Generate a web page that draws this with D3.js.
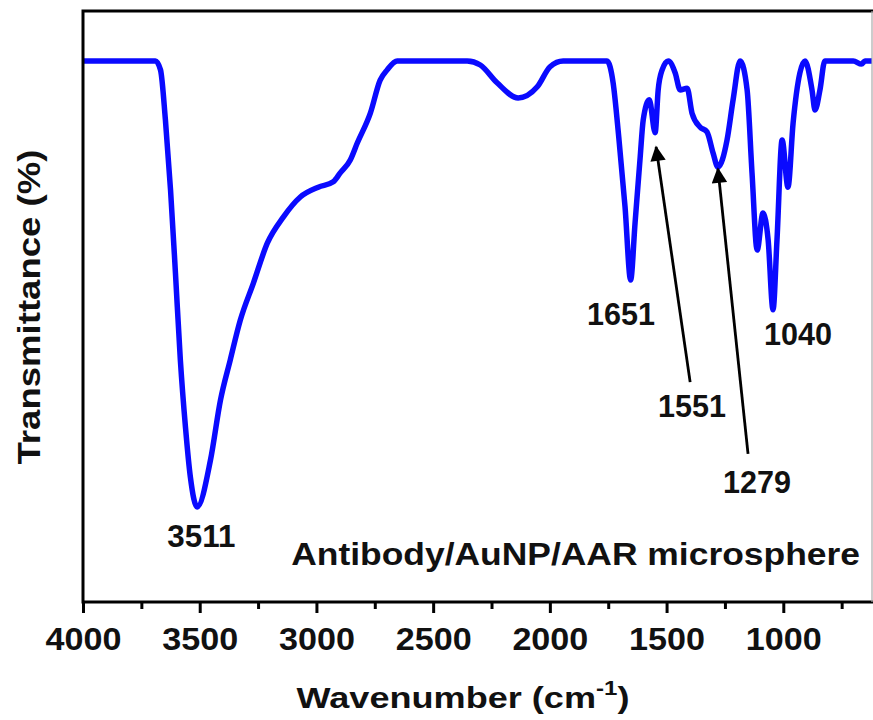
<!DOCTYPE html>
<html>
<head>
<meta charset="utf-8">
<script src="https://cdn.jsdelivr.net/npm/d3@7"></script>
<style>
  html, body { margin: 0; padding: 0; background: #fff; }
  svg { display: block; }
  text { font-family: "Liberation Sans", Arial, sans-serif; font-weight: bold; fill: #111; }
</style>
</head>
<body>
<svg id="chart" width="873" height="720"></svg>
<script>
// ---- data ----
const wavenumber = [4000, 3690, 3668, 3647, 3625, 3604, 3583, 3561, 3540, 3511, 3454, 3411, 3369, 3326, 3270, 3210, 3142, 3069, 2992, 2928, 2898, 2855, 2825, 2769, 2727, 2697, 2654, 2354, 2298, 2226, 2136, 2054, 1999, 1943, 1755, 1729, 1705, 1678, 1654, 1635, 1613, 1600, 1574, 1549, 1536, 1519, 1493, 1463, 1442, 1412, 1391, 1357, 1327, 1301, 1280, 1241, 1215, 1185, 1155, 1134, 1112, 1087, 1065, 1044, 1027, 1005, 980, 958, 929, 907, 877, 864, 843, 822, 700, 665, 650, 620];
const transmittance = [100, 100, 98.0, 86.8, 71.1, 52.5, 33.0, 17.9, 6.7, 0, 10.5, 24.0, 33.0, 41.9, 50.2, 59.2, 65.0, 69.5, 71.7, 72.9, 74.9, 77.8, 81.6, 88.3, 95.7, 98.0, 100, 100, 99.1, 95.1, 91.7, 94.2, 98.7, 100, 100, 95.1, 83.0, 67.3, 50.9, 63.7, 78.5, 86.8, 91.3, 83.9, 93.5, 98.0, 100, 97.3, 93.5, 93.9, 88.3, 85.2, 84.1, 79.4, 76.2, 82.3, 91.3, 100, 93.5, 74.9, 57.6, 65.9, 59.9, 44.2, 59.9, 82.3, 71.7, 86.1, 97.3, 100, 93.5, 89.0, 93.5, 100, 100, 99.3, 100, 100];

const majorTicks = [4000, 3500, 3000, 2500, 2000, 1500, 1000];
const minorTicks = [3750, 3250, 2750, 2250, 1750, 1250, 750];

const peakLabels = ["3511", "1651", "1040", "1551", "1279"];
const peakLabelX = [3493, 1695, 937, 1391, 1113];
const peakLabelY = [-9.0, 40.8, 36.3, 20.2, 3.1];

const arrowFromX = [1399, 1151];
const arrowFromY = [28.0, 11.9];
const arrowToX = [1545, 1280];
const arrowToY = [80.7, 75.8];

const sampleLabel = "Antibody/AuNP/AAR microsphere";
const xTitle = "Wavenumber (cm";
const xTitleSup = "-1";
const yTitle = "Transmittance (%)";

// ---- layout ----
const svg = d3.select("#chart");
const plotLeft = 83, plotRight = 872, plotTop = 11, plotBottom = 602;

const x = d3.scaleLinear().domain([4000, 620]).range([plotLeft, plotRight]);
const y = d3.scaleLinear().domain([-21.3, 111.2]).range([plotBottom, plotTop]);

// place a text at (px,py) and stretch it horizontally to a target width
function stretchedText(parent, px, py, anchor, size, targetWidth, rotate) {
  const g = parent.append("g");
  const t = g.append("text").attr("text-anchor", anchor).style("font-size", size + "px");
  return {
    t,
    fit() {
      const w = t.node().getBBox().width;
      const s = w > 0 ? targetWidth / w : 1;
      g.attr("transform", `translate(${px},${py})` + (rotate ? ` rotate(${rotate})` : "") + ` scale(${s},1)`);
    }
  };
}

const defs = svg.append("defs");
defs.append("clipPath").attr("id", "clip")
  .append("rect").attr("x", plotLeft).attr("y", plotTop)
  .attr("width", plotRight - plotLeft).attr("height", plotBottom - plotTop);

defs.append("marker")
  .attr("id", "arrowhead").attr("viewBox", "0 0 10 10")
  .attr("refX", 9).attr("refY", 5)
  .attr("markerWidth", 8.5).attr("markerHeight", 5.5)
  .attr("markerUnits", "strokeWidth")
  .attr("orient", "auto")
  .append("path").attr("d", "M0,0 L10,5 L0,10 Z").attr("fill", "#000");

// curve
const pts = wavenumber.map((w, i) => [w, transmittance[i]]);
const line = d3.line().x(d => x(d[0])).y(d => y(d[1])).curve(d3.curveMonotoneX);
svg.append("path")
  .datum(pts)
  .attr("clip-path", "url(#clip)")
  .attr("d", line)
  .attr("fill", "none")
  .attr("stroke", "#0a0aff")
  .attr("stroke-width", 5.5)
  .attr("stroke-linejoin", "round")
  .attr("stroke-linecap", "round");

// frame (right edge is cut at the picture border in the reference)
svg.append("path")
  .attr("d", `M${plotRight + 2},${plotTop} H${plotLeft} V${plotBottom} H${plotRight + 2}`)
  .attr("fill", "none").attr("stroke", "#000").attr("stroke-width", 3);
svg.append("line")
  .attr("x1", plotRight).attr("x2", plotRight).attr("y1", plotTop).attr("y2", plotBottom)
  .attr("stroke", "#aaa").attr("stroke-width", 1.2);

// bottom axis - major
const gMajor = svg.append("g").attr("transform", `translate(0,${plotBottom})`)
  .call(d3.axisBottom(x).tickValues(majorTicks).tickSize(11).tickFormat(d3.format("d")));
gMajor.select(".domain").remove();
gMajor.selectAll(".tick line").attr("stroke", "#000").attr("stroke-width", 3);
gMajor.selectAll(".tick text")
  .attr("y", 0).attr("dy", null)
  .style("font-family", "'Liberation Sans', Arial, sans-serif")
  .style("font-weight", "bold")
  .style("font-size", "32px")
  .attr("fill", "#111")
  .each(function () {
    const w = this.getBBox().width;
    d3.select(this).attr("transform", `translate(0,48) scale(${76 / w},1)`);
  });

// bottom axis - minor
const gMinor = svg.append("g").attr("transform", `translate(0,${plotBottom})`)
  .call(d3.axisBottom(x).tickValues(minorTicks).tickSize(7).tickFormat(""));
gMinor.select(".domain").remove();
gMinor.selectAll(".tick line").attr("stroke", "#000").attr("stroke-width", 3);

// arrows
arrowFromX.forEach((fx, i) => {
  svg.append("line")
    .attr("x1", x(fx)).attr("y1", y(arrowFromY[i]))
    .attr("x2", x(arrowToX[i])).attr("y2", y(arrowToY[i]))
    .attr("stroke", "#000").attr("stroke-width", 2.8)
    .attr("marker-end", "url(#arrowhead)");
});

// peak labels
peakLabels.forEach((lab, i) => {
  const st = stretchedText(svg, x(peakLabelX[i]), y(peakLabelY[i]), "middle", 30.5, 68);
  st.t.text(lab);
  st.fit();
});

// sample label
const sl = stretchedText(svg, 860, 565, "end", 31, 569);
sl.t.text(sampleLabel);
sl.fit();

// x title
const xtl = stretchedText(svg, 463, 708, "middle", 30, 333);
xtl.t.append("tspan").text(xTitle);
xtl.t.append("tspan").attr("dy", -13).style("font-size", "20px").text(xTitleSup);
xtl.t.append("tspan").attr("dy", 13).text(")");
xtl.fit();

// y title
const ytl = stretchedText(svg, 40, 307, "middle", 31, 315, -90);
ytl.t.text(yTitle);
ytl.fit();
</script>
</body>
</html>
